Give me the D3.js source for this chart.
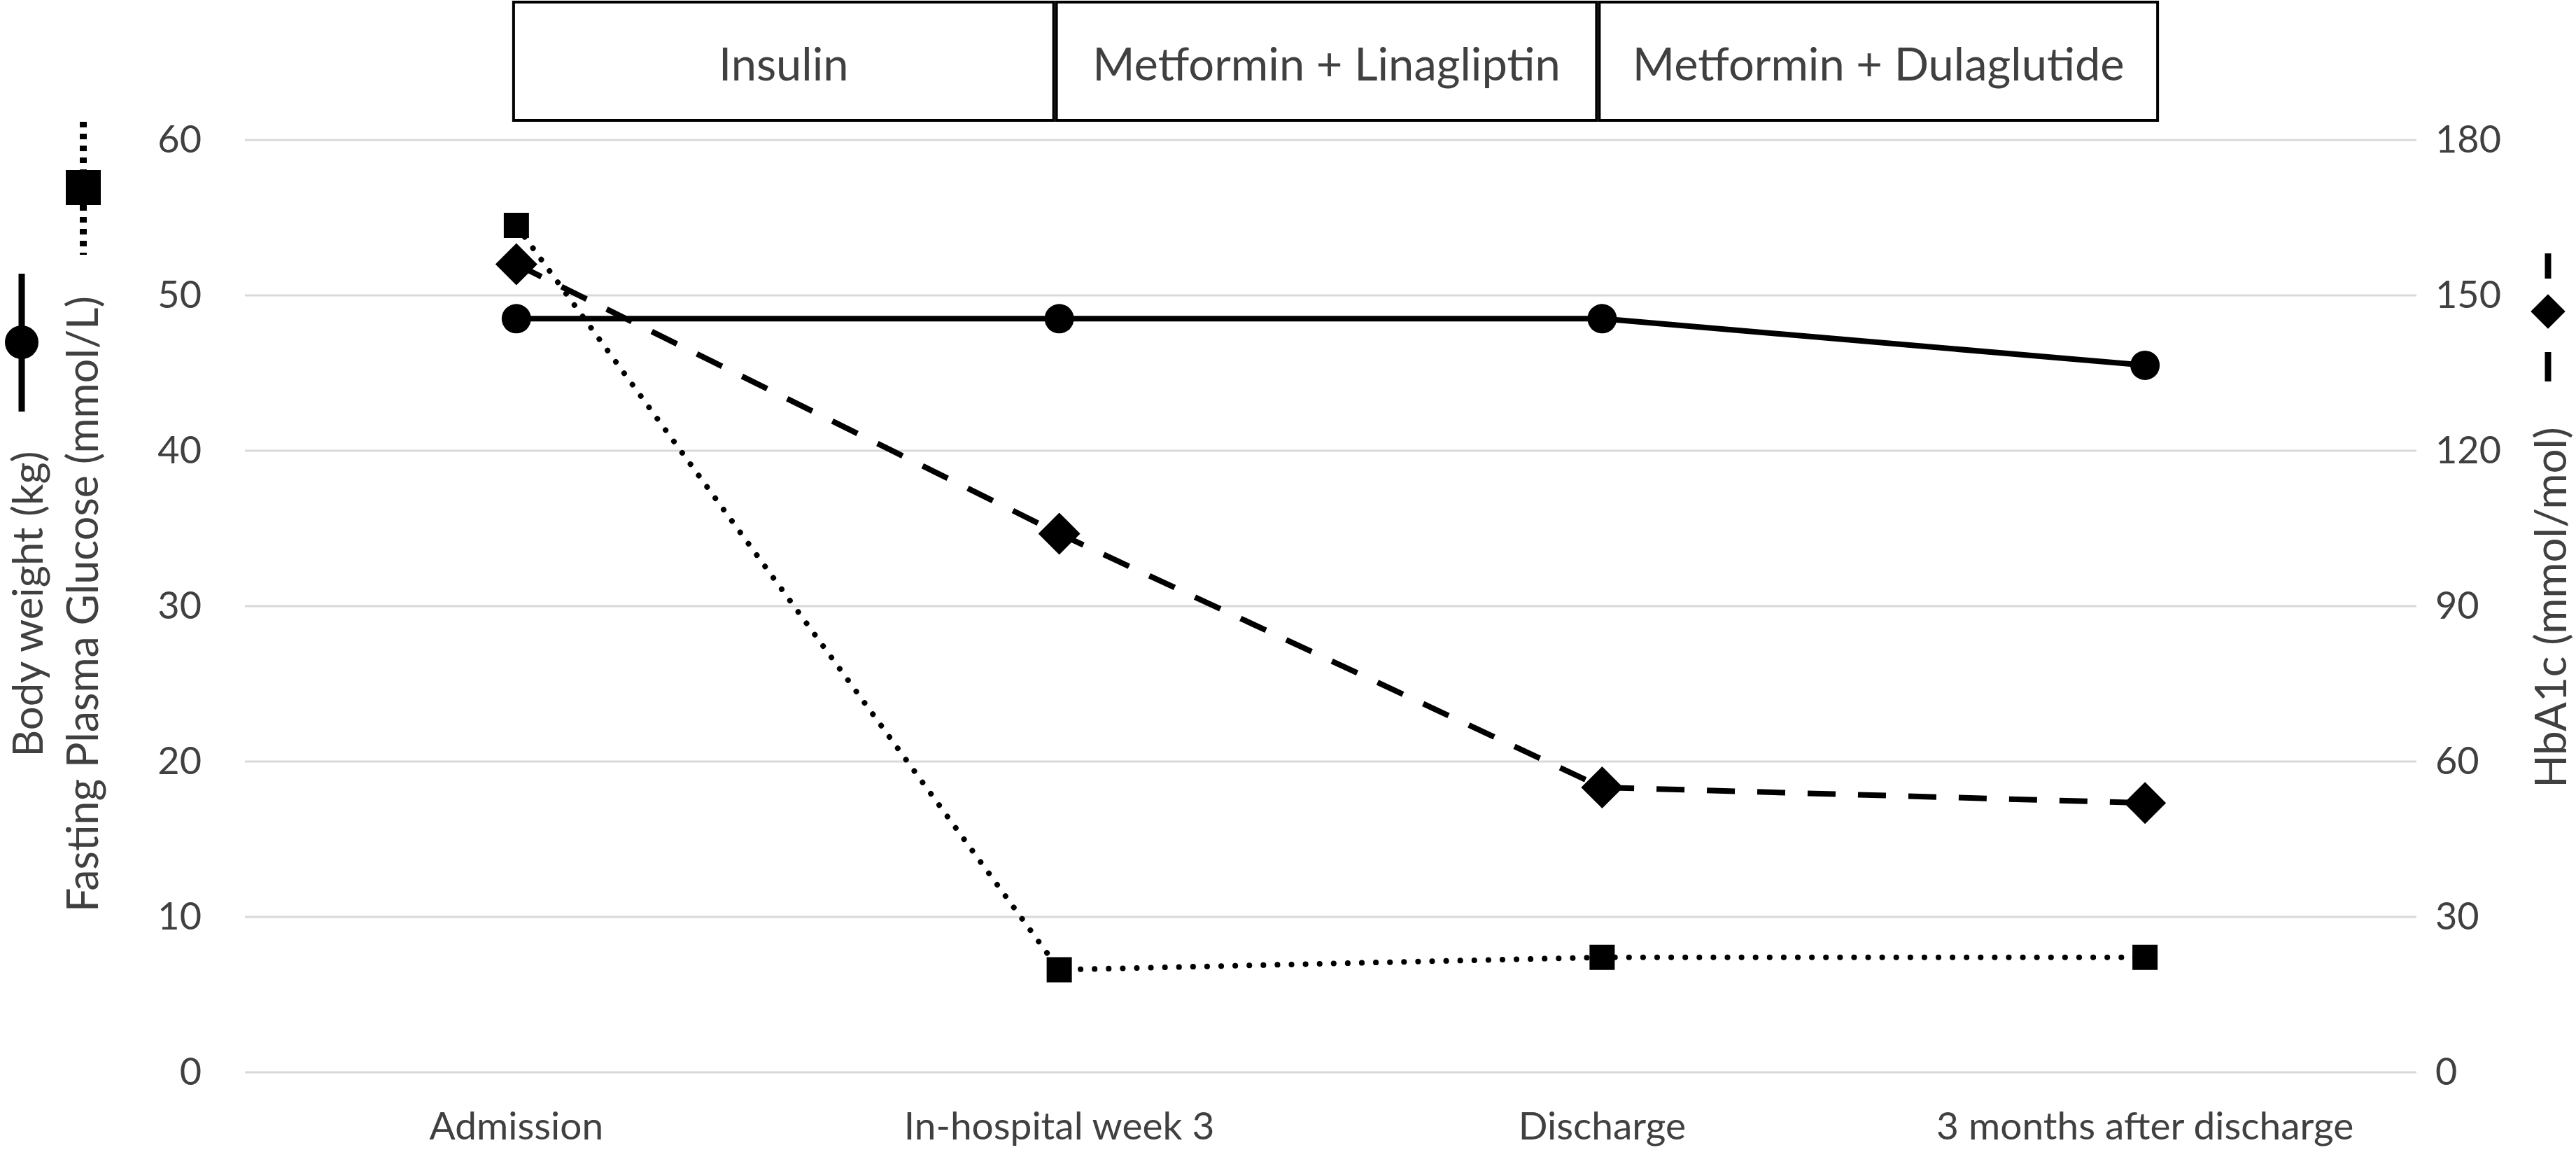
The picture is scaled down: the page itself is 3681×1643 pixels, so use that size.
<!DOCTYPE html>
<html>
<head>
<meta charset="utf-8">
<script src="https://cdn.jsdelivr.net/npm/d3@7"></script>
<style>
  body { margin: 0; background: #fff; }
  text { font-family: Lato, "Open Sans", sans-serif; fill: #404040; }
</style>
</head>
<body>
<div id="chart"></div>
<script>
// categories along the x axis
const categories = ["Admission", "In-hospital week 3", "Discharge", "3 months after discharge"];

// series values
const bodyWeight = [48.5, 48.5, 48.5, 45.5];   // kg, left axis
const glucose = [54.5, 6.6, 7.4, 7.4];         // mmol/L, left axis
const hba1c = [156, 104, 55, 52];              // mmol/mol, right axis

// ticks
const leftTicks = [0, 10, 20, 30, 40, 50, 60];
const rightTicks = [0, 30, 60, 90, 120, 150, 180];

// treatment periods shown as boxes above the plot (start/end category index)
const treatmentLabels = ["Insulin", "Metformin + Linagliptin", "Metformin + Dulaglutide"];
const treatmentStart = [0, 1, 2];
const treatmentEnd = [1, 2, 3];

const width = 3681, height = 1643;
const plot = { left: 350, right: 3453, top: 200, bottom: 1532 };

const svg = d3.select("#chart").append("svg")
  .attr("width", width).attr("height", height)
  .attr("viewBox", `0 0 ${width} ${height}`);

const x = d3.scaleBand().domain(categories).range([plot.left, plot.right]).padding(0);
const xc = (c) => x(c) + x.bandwidth() / 2;
const yL = d3.scaleLinear().domain([0, 60]).range([plot.bottom, plot.top]);
const yR = d3.scaleLinear().domain([0, 180]).range([plot.bottom, plot.top]);

// gridlines
svg.append("g").selectAll("line")
  .data(leftTicks)
  .join("line")
  .attr("x1", plot.left).attr("x2", plot.right)
  .attr("y1", (d) => yL(d)).attr("y2", (d) => yL(d))
  .attr("stroke", "#d9d9d9").attr("stroke-width", 3);

// left axis labels
const leftAxis = svg.append("g")
  .attr("transform", `translate(${plot.left},0)`)
  .call(d3.axisLeft(yL).tickValues(leftTicks).tickSize(0).tickPadding(62));
leftAxis.select(".domain").remove();
leftAxis.selectAll("text").style("font-size", "54px").style("font-family", "Lato").attr("fill", "#404040");

// right axis labels
const rightAxis = svg.append("g")
  .attr("transform", `translate(${plot.right},0)`)
  .call(d3.axisRight(yR).tickValues(rightTicks).tickSize(0).tickPadding(27));
rightAxis.select(".domain").remove();
rightAxis.selectAll("text").style("font-size", "54px").style("font-family", "Lato").attr("fill", "#404040");

// category labels
svg.append("g").selectAll("text")
  .data(categories)
  .join("text")
  .attr("x", (d) => xc(d))
  .attr("y", 1628)
  .attr("text-anchor", "middle")
  .style("font-size", "55px")
  .text((d) => d);

// treatment boxes
const boxes = svg.append("g");
treatmentLabels.forEach((label, i) => {
  const x0 = xc(categories[treatmentStart[i]]) - 4;
  const x1 = i === treatmentLabels.length - 1
    ? xc(categories[treatmentEnd[i]]) + 18
    : xc(categories[treatmentEnd[i]]) - 8;
  boxes.append("rect")
    .attr("x", x0).attr("y", 3)
    .attr("width", x1 - x0).attr("height", 169)
    .attr("fill", "#fff").attr("stroke", "#000").attr("stroke-width", 4);
  boxes.append("text")
    .attr("x", (x0 + x1) / 2).attr("y", 115)
    .attr("text-anchor", "middle")
    .style("font-size", "65px")
    .text(label);
});

// series
const lineL = d3.line().x((d, i) => xc(categories[i])).y((d) => yL(d));
const lineR = d3.line().x((d, i) => xc(categories[i])).y((d) => yR(d));

const series = svg.append("g");
series.append("path").attr("d", lineL(glucose))
  .attr("fill", "none").attr("stroke", "#000").attr("stroke-width", 8)
  .attr("stroke-linecap", "round").attr("stroke-dasharray", "0.1 20");
series.append("path").attr("d", lineR(hba1c))
  .attr("fill", "none").attr("stroke", "#000").attr("stroke-width", 8)
  .attr("stroke-dasharray", "40 32");
series.append("path").attr("d", lineL(bodyWeight))
  .attr("fill", "none").attr("stroke", "#000").attr("stroke-width", 8);

const sq = d3.symbol().type(d3.symbolSquare);
series.selectAll("path.fpg")
  .data(glucose).join("path").attr("class", "fpg")
  .attr("d", sq.size(1296)())
  .attr("transform", (d, i) => `translate(${xc(categories[i])},${yL(d)})`)
  .attr("fill", "#000");
series.selectAll("path.hba")
  .data(hba1c).join("path").attr("class", "hba")
  .attr("d", sq.size(1800)())
  .attr("transform", (d, i) => `translate(${xc(categories[i])},${yR(d)}) rotate(45)`)
  .attr("fill", "#000");
series.selectAll("circle.bw")
  .data(bodyWeight).join("circle").attr("class", "bw")
  .attr("cx", (d, i) => xc(categories[i])).attr("cy", (d) => yL(d))
  .attr("r", 21).attr("fill", "#000");

// left axis titles with their line symbols
const lt = svg.append("g");
lt.append("text")
  .attr("transform", "translate(61,863) rotate(-90)")
  .attr("text-anchor", "middle").style("font-size", "60px")
  .text("Body weight (kg)");
lt.append("text")
  .attr("transform", "translate(140,863) rotate(-90)")
  .attr("text-anchor", "middle").style("font-size", "61px")
  .text("Fasting Plasma Glucose (mmol/L)");
lt.append("line").attr("x1", 31).attr("x2", 31).attr("y1", 391).attr("y2", 588)
  .attr("stroke", "#000").attr("stroke-width", 9);
lt.append("ellipse").attr("cx", 31).attr("cy", 489).attr("rx", 24).attr("ry", 24).attr("fill", "#000");
lt.append("line").attr("x1", 119).attr("x2", 119).attr("y1", 174).attr("y2", 364)
  .attr("stroke", "#000").attr("stroke-width", 10).attr("stroke-dasharray", "8 9");
lt.append("rect").attr("x", 94).attr("y", 243).attr("width", 50).attr("height", 50).attr("fill", "#000");

// right axis title with its symbol
const rt = svg.append("g");
rt.append("text")
  .attr("transform", "translate(3667,868) rotate(-90)")
  .attr("text-anchor", "middle").style("font-size", "62px")
  .text("HbA1c (mmol/mol)");
rt.append("line").attr("x1", 3641).attr("x2", 3641).attr("y1", 362).attr("y2", 545)
  .attr("stroke", "#000").attr("stroke-width", 9).attr("stroke-dasharray", "36 105 42");
rt.append("path").attr("d", sq.size(1225)())
  .attr("transform", "translate(3641,445) rotate(45)")
  .attr("fill", "#000");
</script>
</body>
</html>
